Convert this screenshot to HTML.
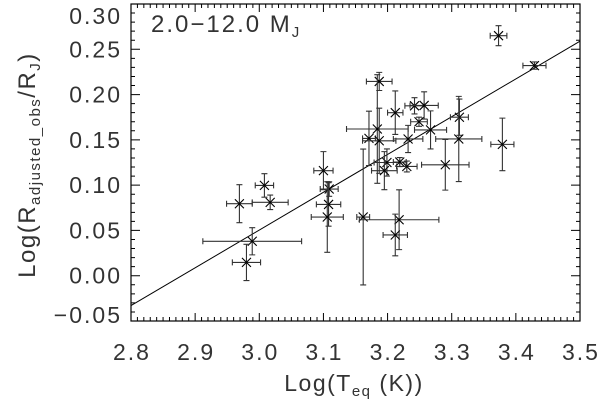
<!DOCTYPE html>
<html><head><meta charset="utf-8"><style>
html,body{margin:0;padding:0;background:#fff;}
svg{display:block;font-family:"Liberation Sans",sans-serif;}
</style></head><body>
<svg id="chart" width="600" height="401" viewBox="0 0 600 401" xmlns="http://www.w3.org/2000/svg">
<g id="axes"></g>
<g id="fit"></g>
<g id="pts"></g>
<text x="151" y="32" font-size="24" letter-spacing="2" fill="#333">2.0−12.0 M<tspan font-size="15" dy="5">J</tspan></text>
<text x="354" y="391" font-size="23" letter-spacing="1.5" text-anchor="middle" fill="#333">Log(T<tspan font-size="15" dy="5">eq</tspan><tspan dy="-5">  (K))</tspan></text>
<text transform="translate(35,165) rotate(-90)" font-size="24" letter-spacing="1.5" text-anchor="middle" fill="#333">Log(R<tspan font-size="15" dy="5">adjusted_obs</tspan><tspan dy="-5">/R</tspan><tspan font-size="15" dy="5">J</tspan><tspan dy="-5">)</tspan></text>
</svg>
<script>
const xs   = [2.969,3.008,3.017,2.989,2.980,3.100,3.109,3.108,3.106,3.162,3.218,3.212,3.187,3.184,3.171,3.187,3.212,3.242,3.257,3.249,3.232,3.267,3.199,3.195,3.219,3.230,3.290,3.312,3.311,3.373,3.429,3.379];
const ys   = [0.0795,0.0997,0.081,0.038,0.0147,0.116,0.0957,0.0787,0.0648,0.0648,0.0618,0.045,0.2145,0.162,0.1516,0.149,0.18,0.1876,0.188,0.170,0.151,0.161,0.125,0.116,0.1255,0.1206,0.1225,0.175,0.151,0.265,0.232,0.145];
const xerr = [0.02,0.0143,0.028,0.077,0.022,0.015,0.014,0.019,0.025,0.01,0.062,0.019,0.02,0.048,0.01,0.026,0.012,0.015,0.022,0.013,0.023,0.025,0.02,0.02,0.01,0.016,0.037,0.014,0.036,0.013,0.018,0.018];
const yerr = [0.021,0.013,0.008,0.015,0.02,0.021,0.008,0.024,0.039,0.075,0.033,0.023,0.01,0.06,0.03,0.036,0.024,0.009,0.015,0.005,0.015,0.021,0.015,0.021,0.005,0.006,0.028,0.02,0.047,0.011,0.004,0.029];
const fitX = [2.8,3.5];
const fitY = [-0.033,0.259];
const xTicks = [2.8,2.9,3.0,3.1,3.2,3.3,3.4,3.5];
const yTicks = [-0.05,0.00,0.05,0.10,0.15,0.20,0.25,0.30];
const yLabels = ["−0.05","0.00","0.05","0.10","0.15","0.20","0.25","0.30"];

const L=131,R=580,T=4,B=321,XMIN=2.8,XMAX=3.5,YMIN=-0.05,YMAX=0.30;
const sx=v=>L+(v-XMIN)/(XMAX-XMIN)*(R-L);
const sy=v=>B-(v-YMIN)/(YMAX-YMIN)*(B-T);
const NS="http://www.w3.org/2000/svg";
function mk(tag,attrs,parent){const e=document.createElementNS(NS,tag);for(const k in attrs)e.setAttribute(k,attrs[k]);parent.appendChild(e);return e;}
const ax=document.getElementById('axes');
const frame=mk('rect',{x:L,y:T,width:R-L,height:B-T,fill:'none',stroke:'#000','stroke-width':1.2},ax);


let d='';
for(let i=0;i<=70;i++){const v=XMIN+i*0.01;const x=sx(v);const len=(i%10===0)?8:4;d+=`M${x},${B}v${-len}M${x},${T}v${len}`;}
for(let i=0;i<=35;i++){const v=YMIN+i*0.01;const y=sy(v);const len=(i%5===0)?9:4;d+=`M${L},${y}h${len}M${R},${y}h${-len}`;}
const tk=mk('path',{d:d,stroke:'#000','stroke-width':1,fill:'none'},ax);


xTicks.forEach(v=>{const t=mk('text',{x:sx(v)+1,y:360,'font-size':23,'letter-spacing':2,'text-anchor':'middle',fill:'#333'},ax);t.textContent=v.toFixed(1);

});
yTicks.forEach((v,i)=>{let y=sy(v)+8;if(i===0)y-=6;if(i===yTicks.length-1)y=24;const t=mk('text',{x:122,y:y,'font-size':23,'letter-spacing':2,'text-anchor':'end',fill:'#333'},ax);t.textContent=yLabels[i];

});
const fl=mk('line',{x1:sx(fitX[0]),y1:sy(fitY[0]),x2:sx(fitX[1]),y2:sy(fitY[1]),stroke:'#000','stroke-width':1},document.getElementById('fit'));


const pg=document.getElementById('pts');
xs.forEach((xv,i)=>{
  const g=mk('g',{stroke:'#333','stroke-width':1.1,fill:'none'},pg);
  
  
  const cx=sx(xv),cy=sy(ys[i]);
  const x0=sx(xv-xerr[i]),x1=sx(xv+xerr[i]),y0=sy(ys[i]+yerr[i]),y1=sy(ys[i]-yerr[i]);
  const c=3,m=4.5;
  mk('path',{d:`M${x0},${cy}H${x1}M${x0},${cy-c}v${2*c}M${x1},${cy-c}v${2*c}M${cx},${y0}V${y1}M${cx-c},${y0}h${2*c}M${cx-c},${y1}h${2*c}`},g);
  mk('path',{d:`M${cx-m},${cy-m}L${cx+m},${cy+m}M${cx-m},${cy+m}L${cx+m},${cy-m}`,stroke:'#000'},g);
});
</script>
</body></html>
